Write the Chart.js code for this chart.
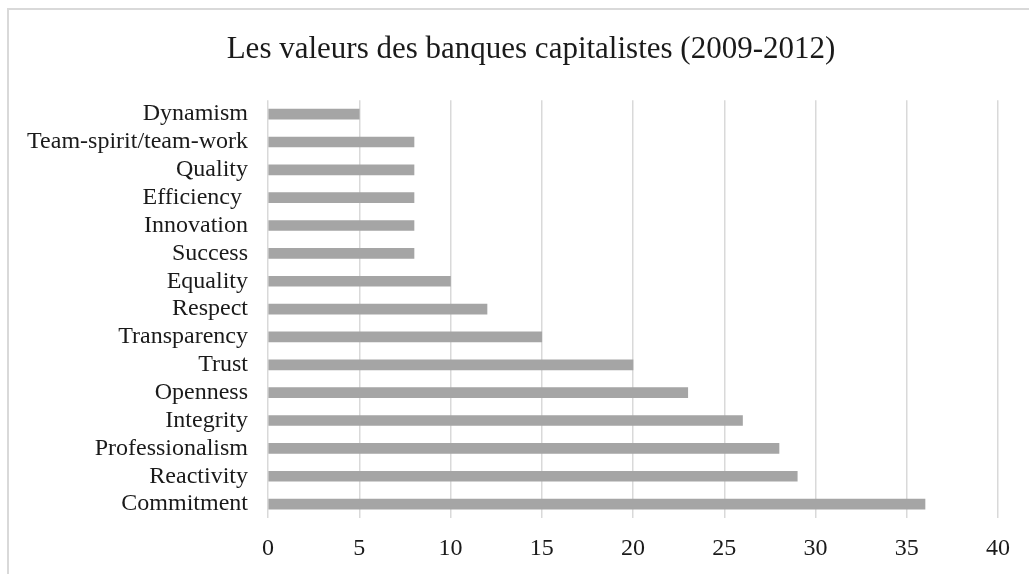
<!DOCTYPE html>
<html>
<head>
<meta charset="utf-8">
<script src="https://cdn.jsdelivr.net/npm/chart.js@4"></script>
<style>
    html, body { margin: 0; padding: 0; background: #fff; overflow: hidden; }
    #wrap { position: relative; width: 1029px; height: 574px; }
    #frame {
        position: absolute; left: 7px; top: 8px; width: 1100px; height: 600px;
        border-left: 2px solid #d9d9d9; border-top: 2px solid #d9d9d9;
    }
    canvas { position: absolute; left: 0; top: 0; }
</style>
</head>
<body>
<div id="wrap">
    <div id="frame"></div>
    <canvas id="valuesChart" width="1029" height="574"></canvas>
</div>
<script>
/* Les valeurs des banques capitalistes (2009-2012) */
const categories = ['Dynamism', 'Team-spirit/team-work', 'Quality', 'Efficiency ', 'Innovation', 'Success',
    'Equality', 'Respect', 'Transparency', 'Trust', 'Openness', 'Integrity', 'Professionalism',
    'Reactivity', 'Commitment'];
const counts = [5, 8, 8, 8, 8, 8, 10, 12, 15, 20, 23, 26, 28, 29, 36];
const xTicks = [0, 5, 10, 15, 20, 25, 30, 35, 40];

const serif = "'Liberation Serif', 'Times New Roman', serif";

// y labels are clipped to the scale box, so let it reach the left edge after layout
const widenLabels = {
    id: 'widenLabels',
    afterLayout(chart) {
        chart.scales.y.left = 0;
    }
};

const ctx = document.getElementById('valuesChart').getContext('2d');
const valuesChart = new Chart(ctx, {
    type: 'bar',
    data: {
        labels: categories,
        datasets: [
            {
                label: 'Valeurs',
                data: counts,
                backgroundColor: '#a5a5a5',
                borderWidth: 0,
                barThickness: 10,
            }
        ]
    },
    options: {
        indexAxis: 'y',
        responsive: false,
        animation: false,
        layout: {
            padding: { left: 64, right: 31, top: 16, bottom: 0 }
        },
        plugins: {
            legend: { display: false },
            tooltip: { enabled: false },
            title: {
                display: true,
                text: 'Les valeurs des banques capitalistes (2009-2012)',
                color: '#1a1a1a',
                font: { family: serif, size: 31, weight: 'normal' },
                padding: { top: 15, bottom: 32 }
            }
        },
        scales: {
            x: {
                min: xTicks[0],
                max: xTicks[xTicks.length - 1],
                afterBuildTicks: (scale) => {
                    scale.ticks = xTicks.map(v => ({ value: v }));
                },
                afterFit: (scale) => { scale.height = 56; },
                grid: { color: '#d9d9d9', lineWidth: 1.5, drawTicks: false },
                border: { display: false },
                ticks: {
                    color: '#1a1a1a',
                    padding: 16,
                    font: { family: serif, size: 24 }
                }
            },
            y: {
                grid: { display: false, drawTicks: false },
                border: { display: false },
                afterFit: (scale) => { scale.width = 204; },
                ticks: {
                    color: '#1a1a1a',
                    padding: 20,
                    autoSkip: false,
                    font: { family: serif, size: 24 }
                }
            }
        }
    },
    plugins: [widenLabels]
});
</script>
</body>
</html>
